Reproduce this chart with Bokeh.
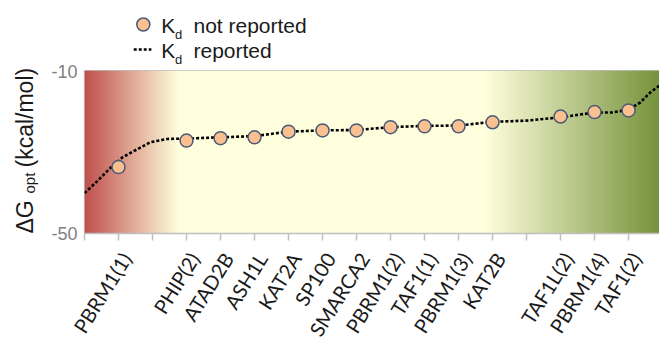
import numpy as np
from bokeh.plotting import figure
from bokeh.models import Range1d, FixedTicker, LinearAxis
from bokeh.layouts import row, column
from bokeh.core.properties import value
from bokeh.embed import file_html
from bokeh.resources import INLINE

# ---------------- data ----------------
names = ["PBRM1(1)", "PHIP(2)", "ATAD2B", "ASH1L", "KAT2A", "SP100", "SMARCA2",
         "PBRM1(2)", "TAF1(1)", "PBRM1(3)", "KAT2B", "TAF1L(2)", "PBRM1(4)", "TAF1(2)"]
slots = [1, 3, 4, 5, 6, 7, 8, 9, 10, 11, 12, 14, 15, 16]
dg_values = [-33.7, -27.2, -26.6, -26.4, -25.0, -24.7, -24.7,
             -23.9, -23.7, -23.7, -22.7, -21.3, -20.2, -19.8]
n_ticks = 17
curve_x = [0.0, 0.37, 0.74, 1.12, 1.4, 1.94, 2.43, 3.0, 4.0, 5.0, 6.0, 7.0, 8.0,
           9.0, 10.0, 11.0, 12.0, 13.0, 14.0, 15.0, 15.5, 16.0, 16.35, 16.65, 16.91]
curve_y = [-40.1, -37.2, -34.1, -31.3, -30.0, -27.6, -26.8, -26.7, -26.4, -26.1,
           -25.0, -24.7, -24.6, -23.9, -23.6, -23.5, -22.6, -22.3, -21.5, -20.3,
           -20.3, -19.6, -17.8, -15.3, -13.7]
y_ticks = [-50, -10]
y_tick_labels = ["-50", "-10"]
y_min, y_max = -50, -10
legend_labels = ["not reported", "reported"]

X_MAX = 16.91
LABEL_SHIFT = 0.22
FONT = "Liberation Sans"
INK = "#1a1a1a"
PT_FILL, PT_LINE = "#FAC090", "#4A5A78"

# ---------------- main chart ----------------
p = figure(width=619, height=294, x_range=Range1d(0, X_MAX), y_range=Range1d(y_min, y_max),
           output_backend="svg", toolbar_location=None,
           min_border_left=44, min_border_right=0, min_border_top=6, min_border_bottom=125)
p.background_fill_color = "white"
p.border_fill_color = "white"
p.outline_line_color = "#bfbfbf"
p.outline_line_width = 1.2
p.xgrid.visible = False
p.ygrid.visible = False

# background gradient (style)
N = 700
gx = np.linspace(0, X_MAX, N)
stop_x = [0.0, 2.75, 11.8, 16.91]
stop_c = [(192, 80, 77), (255, 255, 221), (255, 255, 221), (119, 147, 60)]
img = np.zeros((1, N), dtype=np.uint32)
view = img.view(dtype=np.uint8).reshape((1, N, 4))
for k in range(3):
    view[0, :, k] = np.interp(gx, stop_x, [c[k] for c in stop_c]).astype(np.uint8)
view[0, :, 3] = 255
p.image_rgba(image=[img], x=0, y=y_min, dw=X_MAX, dh=y_max - y_min, level="image")

p.line(curve_x, curve_y, line_color="black", line_width=2.6, line_dash="3 2")
p.scatter(slots, dg_values, size=13, fill_color=PT_FILL, line_color=PT_LINE, line_width=1.5)

# x axis: ticks only
xa = p.xaxis[0]
xa.ticker = FixedTicker(ticks=list(range(n_ticks)))
xa.major_label_overrides = {i: "" for i in range(n_ticks)}
xa.major_label_standoff = 0
xa.axis_line_color = "#bfbfbf"
xa.axis_line_width = 1.5
xa.major_tick_line_color = "#bfbfbf"
xa.major_tick_line_width = 1.5
xa.major_tick_in = 0
xa.major_tick_out = 7
xa.minor_tick_line_color = None

# x axis: rotated labels only
label_pos = [s + LABEL_SHIFT for s in slots]
xb = LinearAxis(ticker=FixedTicker(ticks=label_pos),
                major_label_overrides={lp: nm for lp, nm in zip(label_pos, names)})
xb.major_label_orientation = float(np.deg2rad(58))
xb.major_label_text_font = "Lato"
xb.major_label_text_font_size = "20px"
xb.major_label_text_color = INK
xb.major_label_standoff = 14
xb.axis_line_color = None
xb.major_tick_line_color = None
xb.minor_tick_line_color = None
xb.major_tick_in = 0
xb.major_tick_out = 0
p.add_layout(xb, "below")

ya = p.yaxis[0]
ya.ticker = FixedTicker(ticks=y_ticks)
ya.major_label_overrides = dict(zip(y_ticks, y_tick_labels))
ya.major_label_text_font = FONT
ya.major_label_text_font_size = "18px"
ya.major_label_text_color = "#7f7f7f"
ya.axis_line_color = None
ya.major_tick_line_color = None
ya.minor_tick_line_color = None
ya.major_tick_in = 0
ya.major_tick_out = 0
ya.major_label_standoff = 7


def blank(width, height, x0):
    # plain pixel-space panel: x grows right, y grows up
    f = figure(width=width, height=height, x_range=Range1d(x0, x0 + width),
               y_range=Range1d(0, height), x_axis_type=None, y_axis_type=None,
               output_backend="svg", toolbar_location=None,
               min_border=0, min_border_left=0, min_border_right=0,
               min_border_top=0, min_border_bottom=0)
    f.outline_line_color = None
    f.background_fill_color = "white"
    f.border_fill_color = "white"
    f.xgrid.visible = False
    f.ygrid.visible = False
    return f


# ---------------- y-axis title: ΔG_opt (kcal/mol) ----------------
YH = 358
yl = blank(40, YH, 0)
yl.text(x=[11, 20, 11], y=[YH - 233, YH - 193, YH - 167], text=["ΔG", "opt", "(kcal/mol)"],
        angle=np.pi / 2, text_font=value(FONT), text_font_size=["23px", "15px", "23px"],
        text_color=INK, text_baseline="top", text_align="left")

# ---------------- legend ----------------
LH = 64
lg = blank(619, LH, 40)
lg.scatter([103.3], [LH - 24], size=13, fill_color=PT_FILL, line_color=PT_LINE, line_width=1.5)
lg.line([93, 112], [LH - 49, LH - 49], line_color="black", line_width=2.6, line_dash="3 2")
lg.text(x=[122.7, 122.7], y=[LH - 13.3, LH - 38.3], text=["K", "K"], text_font=value(FONT),
        text_font_size="21px", text_color=INK, text_baseline="top")
lg.text(x=[137.3, 137.3], y=[LH - 26.0, LH - 51.0], text=["d", "d"], text_font=value(FONT),
        text_font_size="13px", text_color=INK, text_baseline="top")
lg.text(x=[157.3, 157.3], y=[LH - 13.3, LH - 38.3], text=legend_labels, text_font=value(FONT),
        text_font_size="21px", text_color=INK, text_baseline="top")

layout = row(yl, column(lg, p, spacing=0), spacing=0)
open("out.html", "w").write(file_html(layout, INLINE))
